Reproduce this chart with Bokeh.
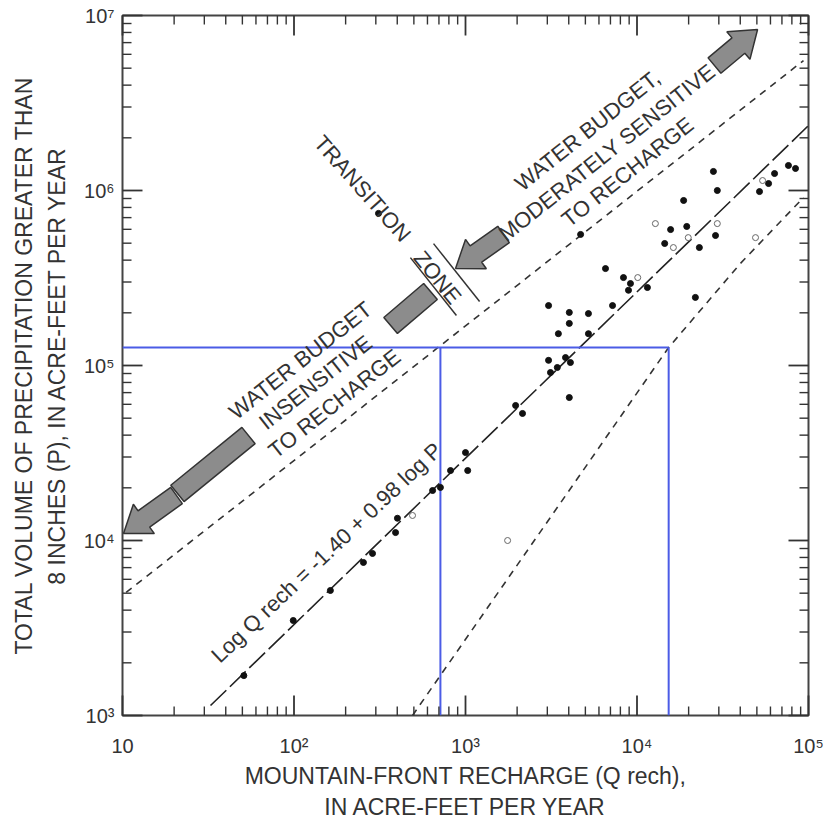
import numpy as np
from bokeh.plotting import figure
from bokeh.models import Range1d, LogAxis, FixedTicker
from bokeh.core.properties import value
from bokeh.embed import file_html
from bokeh.resources import INLINE

# ---------------- data ----------------
# filled symbols: mountain-front recharge Q (acre-ft/yr) vs precipitation volume P
filled_q = [51, 99, 163, 254, 287, 401, 391, 643, 714, 818, 1000, 1030, 1960, 2150,
            4690, 6550, 8340, 9160, 8920, 11500, 3050, 4030, 5210, 4030, 7200, 3480,
            5210, 3050, 3830, 4090, 3130, 3430, 4030,
            27900, 29400, 18700, 15700, 19500, 28700, 23100, 14500, 51800, 58500,
            63400, 76400, 84000, 21900, 311]
filled_p = [1690, 3490, 5180, 7490, 8430, 13400, 11100, 19300, 20100, 25100, 31800, 25100,
            59100, 53200,
            561000, 358000, 318000, 294000, 269000, 279000, 220000, 201000, 198000,
            174000, 220000, 152000, 152000, 107000, 111000, 104000, 91200, 97400, 65600,
            1285000, 1000000, 877000, 598000, 623000, 553000, 472000, 498000, 986000,
            1096000, 1250000, 1390000, 1336000, 245000, 740000]
# open symbols
open_q = [491, 1760, 10100, 12800, 16300, 19900, 29400, 54000, 49100]
open_p = [13900, 10000, 318000, 647000, 472000, 538000, 647000, 1140000, 538000]

# reference lines
upper_q = [10.5, 93500]
upper_p = [5050, 5530000]
reg_q = [32.6, 100000]
reg_p = [1140, 2350000]
lower_q = [491, 15300, 40100, 93500]
lower_p = [1000, 126800, 383000, 912000]

# blue guide lines
guide_p = 126800
guide_q_lo = 714
guide_q_hi = 15300

# axes
x_min, x_max = 10, 1e5
y_min, y_max = 1e3, 1e7
x_ticks = [10, 100, 1000, 10000, 100000]
x_tick_labels = ["10", "10²", "10³", "10⁴", "10⁵"]
y_ticks = [1000, 10000, 100000, 1000000, 10000000]
y_tick_labels = ["10³", "10⁴", "10⁵", "10⁶", "10⁷"]
x_minor = [m * 10 ** k for k in range(1, 5) for m in range(2, 10)]
y_minor = [m * 10 ** k for k in range(3, 7) for m in range(2, 10)]

x_title = ["MOUNTAIN-FRONT RECHARGE (Q rech),", "IN ACRE-FEET PER YEAR"]
y_title = ["TOTAL VOLUME OF PRECIPITATION GREATER THAN",
           "8 INCHES (P), IN ACRE-FEET PER YEAR"]

# annotation arrows (tail Q,P -> tip Q,P)
arrows = [((20.65, 18070), (10.14, 10965)),
          ((1667, 561000), (875, 358100)),
          ((28310, 5176000), (50470, 8318000))]
bars = [((20.9, 18580), (54.3, 39800)),
        ((366, 169400), (625, 264900))]
zone_marks = [(650, 282500), (887, 339600)]

texts = ["TRANSITION", "ZONE",
         "WATER BUDGET,", "MODERATELY SENSITIVE", "TO RECHARGE",
         "WATER BUDGET", "INSENSITIVE", "TO RECHARGE",
         "Log Q rech = -1.40 + 0.98 log P"]
text_q = [250.6, 687, 5140, 6683, 8810, 109.1, 133.4, 172.2, 154.9]
text_p = [1025700, 318400, 2203000, 1648000, 1276000, 106900, 80000, 60670, 8531]
text_angle_deg = [-48.5, -51, 38.6, 38.6, 38.6, 38.3, 38.3, 38.3, 43.5]

# ---------------- figure ----------------
FW, FH = 686, 700
p = figure(frame_width=FW, frame_height=FH, x_axis_type="log", y_axis_type="log",
           x_axis_location=None, y_axis_location=None,
           x_range=Range1d(x_min, x_max), y_range=Range1d(y_min, y_max),
           output_backend="svg", toolbar_location=None,
           min_border_left=122, min_border_right=20, min_border_top=15,
           min_border_bottom=111, background_fill_color="white",
           border_fill_color="white")
p.grid.visible = False
p.outline_line_color = "#444444"
p.outline_line_width = 2

FONT = "Liberation Sans"
SX = FW / np.log10(x_max / x_min)   # px per decade
SY = FH / np.log10(y_max / y_min)


def bare_axis(ticks, labels):
    """axis with no marks: tick labels and/or a title only"""
    ax = LogAxis(ticker=FixedTicker(ticks=ticks, minor_ticks=[]))
    ax.axis_line_color = None
    ax.major_tick_line_color = None
    ax.minor_tick_line_color = None
    ax.major_tick_in = 0
    ax.major_tick_out = 0
    ax.minor_tick_in = 0
    ax.minor_tick_out = 0
    if labels:
        ax.major_label_overrides = dict(zip(ticks, labels))
        ax.major_label_text_font = FONT
        ax.major_label_text_font_size = "20px"
        ax.major_label_text_color = "#333333"
    else:
        ax.major_label_standoff = 0
    return ax


def title_style(ax, text, standoff):
    ax.axis_label = text
    ax.axis_label_text_font = FONT
    ax.axis_label_text_font_size = "23px"
    ax.axis_label_text_font_style = "normal"
    ax.axis_label_text_color = "#333333"
    ax.axis_label_standoff = standoff


xl = bare_axis(x_ticks, x_tick_labels)
xl.major_label_standoff = 19
title_style(xl, x_title[0], 3)
p.add_layout(xl, "below")
xt = bare_axis([], None)
title_style(xt, x_title[1], 2)
p.add_layout(xt, "below")

yl = bare_axis(y_ticks, y_tick_labels)
yl.major_label_standoff = 8
title_style(yl, y_title[1], 11)
p.add_layout(yl, "left")
yt = bare_axis([], None)
title_style(yt, y_title[0], 4)
p.add_layout(yt, "left")


# ---------------- inward tick marks on all four sides ----------------
def tick_lines(xv, yv, length):
    xs, ys = [], []
    dy = 10 ** (length / SY)
    dx = 10 ** (length / SX)
    for t in xv:                            # bottom and top
        xs += [[t, t], [t, t]]
        ys += [[y_min, y_min * dy], [y_max, y_max / dy]]
    for t in yv:                            # left and right
        ys += [[t, t], [t, t]]
        xs += [[x_min, x_min * dx], [x_max, x_max / dx]]
    return xs, ys


for xv, yv, ln, lw in ((x_ticks, y_ticks, 20, 1.8), (x_minor, y_minor, 9, 1.4)):
    mx, my = tick_lines(xv, yv, ln)
    r = p.multi_line(mx, my, line_color="#333333", line_width=lw)
    r.level = "overlay"

# ---------------- lines ----------------
p.line(upper_q, upper_p, line_color="#333333", line_width=1.6, line_dash="7 6")
p.line(lower_q, lower_p, line_color="#333333", line_width=1.6, line_dash="7 6")
p.line(reg_q, reg_p, line_color="#222222", line_width=1.6, line_dash="22 5")

p.segment(x0=[x_min, guide_q_lo, guide_q_hi], y0=[guide_p, y_min, y_min],
          x1=[guide_q_hi, guide_q_lo, guide_q_hi], y1=[guide_p, guide_p, guide_p],
          line_color="#4b5ce6", line_width=2)

# ---------------- points ----------------
p.scatter(filled_q, filled_p, size=6, marker="circle", fill_color="#111111",
          line_color="#111111")
p.scatter(open_q, open_p, size=6, marker="circle", fill_color="white",
          line_color="#666666", line_width=1)


# ---------------- arrows & bars (built in screen-like log space) ----------------
def to_s(qp):
    return np.array([np.log10(qp[0]) * SX, np.log10(qp[1]) * SY])


def from_s(pts):
    pts = np.array(pts)
    return list(10 ** (pts[:, 0] / SX)), list(10 ** (pts[:, 1] / SY))


def frame_of(a, b):
    a, b = to_s(a), to_s(b)
    d = b - a
    u = d / np.hypot(*d)
    n = np.array([-u[1], u[0]])
    return a, b, u, n


xs, ys = [], []
for tail, tip in arrows:
    a, b, u, n = frame_of(tail, tip)
    base = b - u * 25
    pts = [a + n * 10, base + n * 10, base + n * 18, b, base - n * 18, base - n * 10,
           a - n * 10]
    qx, py = from_s(pts)
    xs.append(qx)
    ys.append(py)
for s, e in bars:
    a, b, u, n = frame_of(s, e)
    pts = [a + n * 10.5, b + n * 10.5, b - n * 10.5, a - n * 10.5]
    qx, py = from_s(pts)
    xs.append(qx)
    ys.append(py)
p.patches(xs, ys, fill_color="#8c8c8c", line_color="#333333", line_width=1.5)

# zone boundary marks, perpendicular to the arrow direction
a0, b0, u0, n0 = frame_of(arrows[0][1], arrows[2][1])
zx0, zy0, zx1, zy1 = [], [], [], []
for c in zone_marks:
    cs = to_s(c)
    q0, p0 = from_s([cs + n0 * 37, cs - n0 * 37])
    zx0.append(q0[0]); zy0.append(p0[0]); zx1.append(q0[1]); zy1.append(p0[1])
p.segment(x0=zx0, y0=zy0, x1=zx1, y1=zy1, line_color="#333333", line_width=1.5)

# ---------------- texts ----------------
p.text(x=text_q, y=text_p, text=texts, angle=list(np.radians(text_angle_deg)),
       text_font=value(FONT), text_font_size="22px", text_color="#333333",
       text_align="center", text_baseline="middle")

open("out.html", "w").write(file_html(p, INLINE))
